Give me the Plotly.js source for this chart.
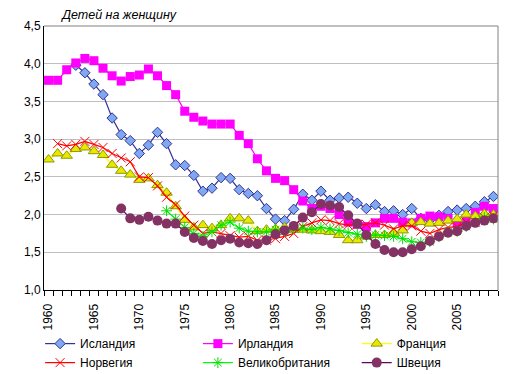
<!DOCTYPE html>
<html>
<head>
<meta charset="utf-8">
<script src="https://cdn.plot.ly/plotly-3.0.1.min.js"></script>
<style>body{margin:0;padding:0;background:#fff;}#chart{width:514px;height:374px;}</style>
</head>
<body>
<div id="chart"></div>
<script>
const years = [1960,1961,1962,1963,1964,1965,1966,1967,1968,1969,
               1970,1971,1972,1973,1974,1975,1976,1977,1978,1979,
               1980,1981,1982,1983,1984,1985,1986,1987,1988,1989,
               1990,1991,1992,1993,1994,1995,1996,1997,1998,1999,
               2000,2001,2002,2003,2004,2005,2006,2007,2008,2009];
const tickYears = [1960,1965,1970,1975,1980,1985,1990,1995,2000,2005];

const iceland = [null,null,null,3.98,3.88,3.73,3.59,3.28,3.06,2.98,
                 2.81,2.92,3.09,2.94,2.66,2.65,2.52,2.31,2.35,2.49,
                 2.48,2.33,2.28,2.25,2.08,1.94,1.92,2.07,2.27,2.19,
                 2.31,2.19,2.22,2.23,2.15,2.08,2.13,2.04,2.05,2.00,
                 2.08,1.95,1.93,1.99,2.04,2.06,2.08,2.11,2.17,2.24];
const ireland = [3.78,3.78,3.92,4.01,4.07,4.04,3.94,3.84,3.77,3.83,
                 3.85,3.93,3.84,3.71,3.59,3.37,3.29,3.24,3.20,3.20,
                 3.20,3.05,2.94,2.74,2.58,2.48,2.45,2.33,2.18,2.08,
                 2.11,2.08,2.00,1.90,1.87,1.84,1.89,1.95,1.95,1.90,
                 1.89,1.95,1.98,1.97,1.95,1.88,1.93,2.03,2.11,2.08];
const france = [2.73,2.81,2.78,2.87,2.89,2.84,2.79,2.66,2.58,2.53,
                2.46,2.48,2.39,2.29,2.11,1.93,1.83,1.86,1.82,1.86,
                1.95,1.95,1.92,1.78,1.80,1.81,1.83,1.80,1.80,1.79,
                1.78,1.77,1.73,1.66,1.66,1.71,1.73,1.73,1.76,1.79,
                1.89,1.90,1.88,1.89,1.92,1.94,2.00,1.98,2.01,2.00];
const norway = [null,2.94,2.91,2.93,2.97,2.93,2.89,2.81,2.75,2.70,
                2.50,2.49,2.38,2.23,2.13,1.98,1.86,1.75,1.77,1.75,
                1.72,1.70,1.71,1.66,1.66,1.68,1.71,1.75,1.84,1.89,
                1.93,1.92,1.88,1.86,1.87,1.87,1.89,1.86,1.81,1.85,
                1.85,1.78,1.75,1.80,1.83,1.84,1.90,1.90,1.96,1.98];
const uk = [null,null,null,null,null,null,null,null,null,null,
            null,null,null,2.05,1.94,1.83,1.75,1.71,1.77,1.86,
            1.90,1.82,1.78,1.77,1.77,1.80,1.78,1.81,1.82,1.80,
            1.83,1.81,1.79,1.76,1.74,1.71,1.73,1.72,1.71,1.68,
            1.64,1.63,1.64,1.71,1.77,1.78,1.84,1.90,1.96,1.94];
const sweden = [null,null,null,null,null,null,null,null,2.08,1.95,
                1.93,1.97,1.92,1.88,1.88,1.77,1.69,1.65,1.61,1.66,
                1.68,1.63,1.62,1.61,1.66,1.74,1.79,1.85,1.96,2.03,
                2.14,2.12,2.10,1.99,1.88,1.73,1.61,1.53,1.50,1.50,
                1.54,1.58,1.65,1.71,1.76,1.78,1.85,1.89,1.92,1.95];

const names = ['Исландия','Ирландия','Франция','Норвегия','Великобритания','Швеция'];
const FONT = 'Liberation Sans, Arial, sans-serif';

const traces = [
  {y: iceland, name: names[0], legend:'legend', line:{color:'#333399', width:1.2},
   marker:{symbol:'diamond', size:8, color:'#80A8F0', line:{color:'#333399', width:1}}},
  {y: ireland, name: names[1], legend:'legend2', line:{color:'#FF00FF', width:1.2},
   marker:{symbol:'square', size:9, color:'#FF00FF', line:{width:0}}},
  {y: france, name: names[2], legend:'legend3', line:{color:'#FFFF00', width:1.2},
   marker:{symbol:'triangle-up', size:10, color:'#E8E800', line:{color:'#8C9A00', width:1}}},
  {y: norway, name: names[3], legend:'legend', line:{color:'#FF0000', width:1.2},
   marker:{symbol:'x-thin-open', size:9, color:'#FF0000', line:{color:'#FF0000', width:1}}},
  {y: uk, name: names[4], legend:'legend2', line:{color:'#00FF00', width:1.2},
   marker:{symbol:'asterisk-open', size:9, color:'#00E000', line:{color:'#00E000', width:1}}},
  {y: sweden, name: names[5], legend:'legend3', line:{color:'#660066', width:1.2},
   marker:{symbol:'circle', size:10, color:'#833263', line:{width:0}}}
].map(t => Object.assign({x: years, type:'scatter', mode:'lines+markers', connectgaps:false}, t));

function legendAt(xc) {
  return {orientation:'v', xref:'container', x:xc, xanchor:'left',
          yref:'container', y:0.12, yanchor:'top', itemwidth:30, tracegroupgap:0,
          font:{family:FONT, size:12}, bgcolor:'rgba(0,0,0,0)', borderwidth:0};
}

const layout = {
  width: 514, height: 374,
  margin: {l:44, r:16, t:26, b:84, autoexpand:false},
  paper_bgcolor:'#ffffff', plot_bgcolor:'#ffffff',
  separators: ', ',
  font: {family: FONT, size: 12, color:'#000'},
  title: {text:'<i>Детей на женщину</i>', font:{family:FONT, size:12.5, color:'#000'},
          xref:'paper', x:0.04, xanchor:'left', yref:'container', y:0.96, yanchor:'middle'},
  xaxis: {range:[1959.5, 2009.5], tickvals: tickYears, ticktext: tickYears.map(String),
          tickangle:-90, ticks:'', showgrid:false, zeroline:false, automargin:false,
          showline:true, linecolor:'#000', linewidth:1, ticklabelstandoff:8,
          minor:{ticks:'outside', tick0:1959.5, dtick:1, ticklen:5, tickcolor:'#000', showgrid:false},
          tickfont:{family:FONT, size:12}},
  yaxis: {range:[1, 4.5], dtick:0.5, tick0:1, tickformat:'.1f', automargin:false,
          showgrid:true, gridcolor:'#BFBFBF', gridwidth:1, zeroline:false,
          showline:true, linecolor:'#000', linewidth:1, ticks:'',
          tickfont:{family:FONT, size:12}},
  shapes: [
    {type:'line', xref:'paper', yref:'paper', x0:0, x1:1, y0:1, y1:1, line:{color:'#808080', width:1}},
    {type:'line', xref:'paper', yref:'paper', x0:1, x1:1, y0:0, y1:1, line:{color:'#808080', width:1}}
  ],
  legend: legendAt(0.078),
  legend2: legendAt(0.385),
  legend3: legendAt(0.694),
  showlegend: true
};

Plotly.newPlot('chart', traces, layout, {displayModeBar:false, staticPlot:true});
</script>
</body>
</html>
